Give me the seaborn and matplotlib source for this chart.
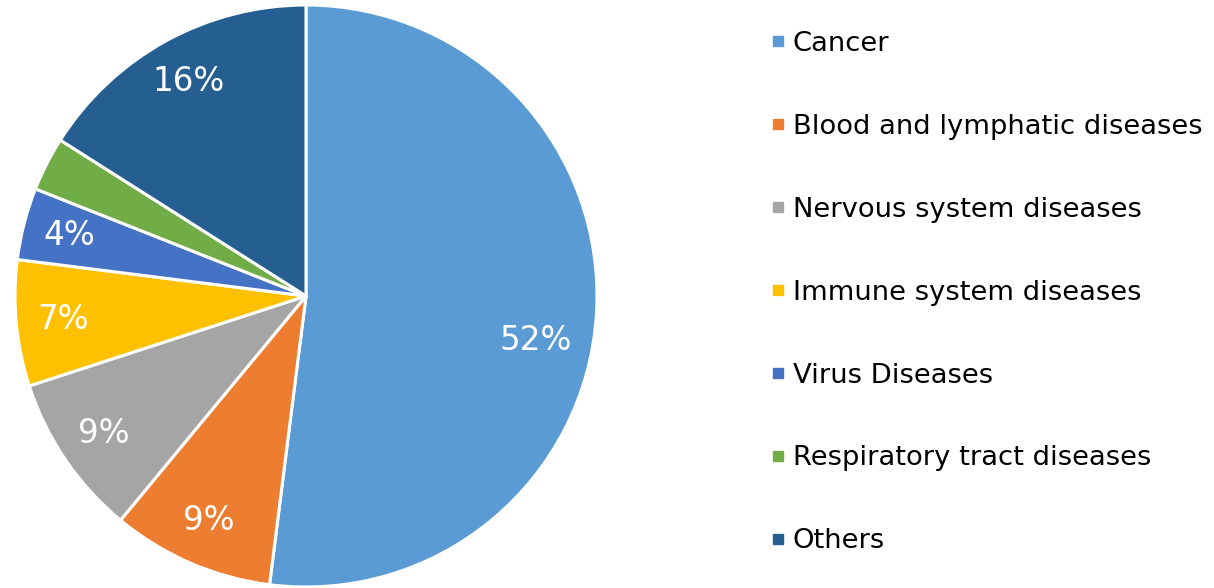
import matplotlib
matplotlib.use("Agg")
import matplotlib.pyplot as plt
from matplotlib.lines import Line2D
import seaborn as sns

# Data
categories = ["Cancer", "Blood and lymphatic diseases", "Nervous system diseases",
              "Immune system diseases", "Virus Diseases", "Respiratory tract diseases",
              "Others"]
shares = [52, 9, 9, 7, 4, 3, 16]
colors = ["#5B9BD5", "#ED7D31", "#A5A5A5", "#FFC000", "#4472C4", "#70AD47", "#255E91"]

sns.set_theme(style="white")
plt.rcParams['font.family'] = ['DejaVu Sans']
plt.rcParams['text.color'] = 'black'
palette = sns.color_palette(colors)

fig = plt.figure(figsize=(12.14, 5.88), dpi=100)
ax = fig.add_axes([15 / 1214, 1 / 588, 582 / 1214, 582 / 588])

wedges, texts, autotexts = ax.pie(
    shares, colors=palette, startangle=90, counterclock=False,
    autopct=lambda p: f"{p:.0f}%" if p > 3.5 else "",
    pctdistance=0.84, radius=1.0,
    wedgeprops=dict(edgecolor="white", linewidth=2.2),
    textprops=dict(color="white", fontsize=23.5),
)
ax.set_xlim(-1.0, 1.0)
ax.set_ylim(-1.0, 1.0)
ax.set_aspect("equal")

# the big slice label sits a bit lower and further in, like the original
big = autotexts[0]
x, y = big.get_position()
big.set_position((x * 0.94, y - 0.1))

handles = [Line2D([0], [0], marker="s", linestyle="none", markersize=7.2,
                  markerfacecolor=c, markeredgecolor=c) for c in colors]
fig.legend(handles, categories, loc="upper left", bbox_to_anchor=(755 / 1214, 1 - 20 / 588),
           frameon=False, fontsize=19.7, labelspacing=2.08, handletextpad=0.1,
           handlelength=0.88, borderaxespad=0)

fig.savefig("out.png", dpi=100)
